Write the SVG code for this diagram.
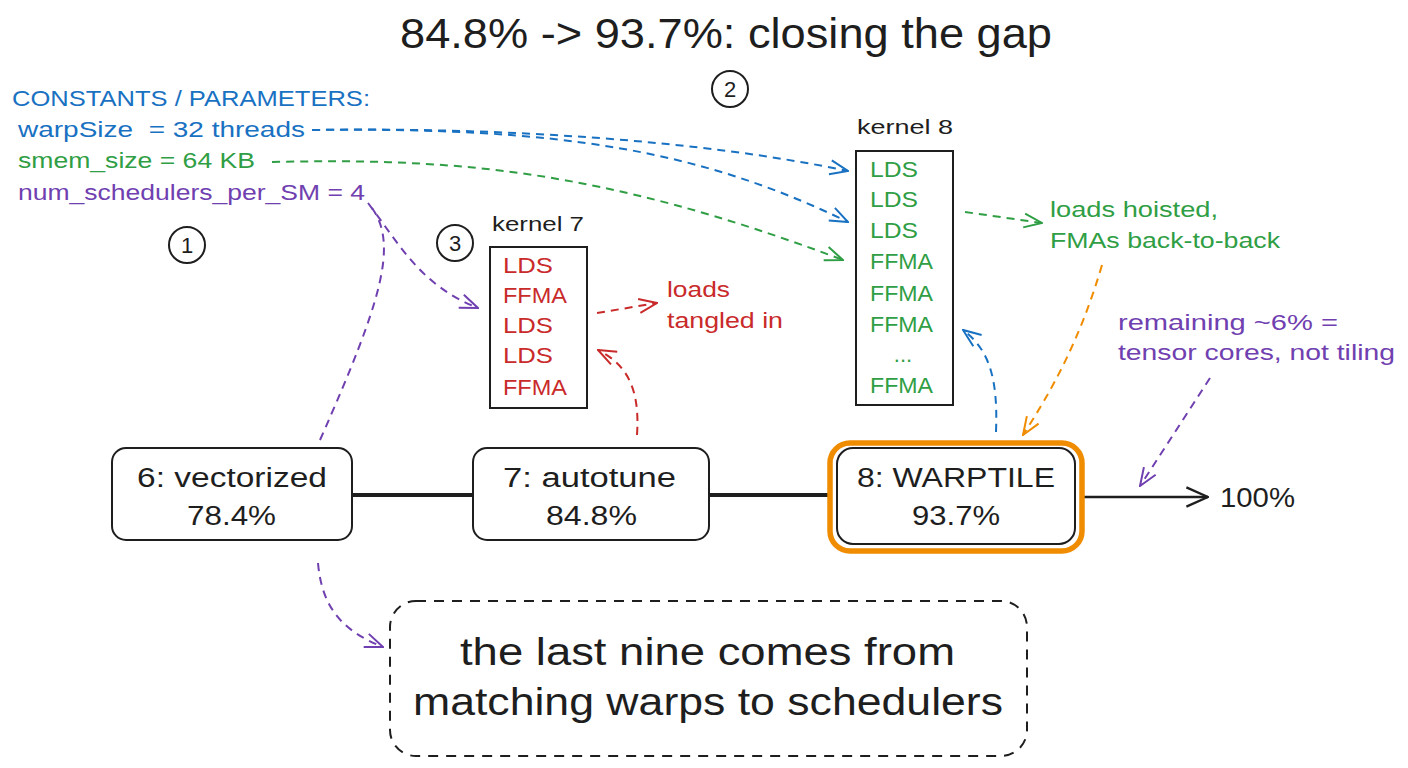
<svg xmlns="http://www.w3.org/2000/svg" width="1408" height="768" viewBox="0 0 1408 768">
<style>
text{font-family:"Liberation Sans",Arial,sans-serif;white-space:pre}
.t{fill:#1e1e1e}
.blue{fill:#1971c2}.green{fill:#2f9e44}.purple{fill:#7040b0}.red{fill:#c92a2a}
.node{fill:#fff;stroke:#1e1e1e;stroke-width:2}
.dash{fill:none;stroke-width:2;stroke-dasharray:8 6}
.sb{stroke:#1971c2}.sg{stroke:#2f9e44}.sp{stroke:#7040b0}.sr{stroke:#c92a2a}.so{stroke:#f08c00}
.circ{fill:none;stroke:#1e1e1e;stroke-width:2}
</style>
<defs>
<marker id="ab" viewBox="0 0 20 20" refX="19" refY="10" markerWidth="20" markerHeight="20" markerUnits="userSpaceOnUse" orient="auto"><path d="M1,3 L19,10 L1,17" fill="none" stroke="#1971c2" stroke-width="2"/></marker>
<marker id="ag" viewBox="0 0 20 20" refX="19" refY="10" markerWidth="20" markerHeight="20" markerUnits="userSpaceOnUse" orient="auto"><path d="M1,3 L19,10 L1,17" fill="none" stroke="#2f9e44" stroke-width="2"/></marker>
<marker id="ap" viewBox="0 0 20 20" refX="19" refY="10" markerWidth="20" markerHeight="20" markerUnits="userSpaceOnUse" orient="auto"><path d="M1,3 L19,10 L1,17" fill="none" stroke="#7040b0" stroke-width="2"/></marker>
<marker id="ar" viewBox="0 0 20 20" refX="19" refY="10" markerWidth="20" markerHeight="20" markerUnits="userSpaceOnUse" orient="auto"><path d="M1,3 L19,10 L1,17" fill="none" stroke="#c92a2a" stroke-width="2"/></marker>
<marker id="ao" viewBox="0 0 20 20" refX="19" refY="10" markerWidth="20" markerHeight="20" markerUnits="userSpaceOnUse" orient="auto"><path d="M1,3 L19,10 L1,17" fill="none" stroke="#f08c00" stroke-width="2"/></marker>
<marker id="ak" viewBox="0 0 20 20" refX="19" refY="10" markerWidth="24" markerHeight="24" markerUnits="userSpaceOnUse" orient="auto"><path d="M1,2 L19,10 L1,18" fill="none" stroke="#1e1e1e" stroke-width="2"/></marker>
</defs>

<rect width="1408" height="768" fill="#ffffff"/>

<g id="title">
<text class="t" x="400" y="48" font-size="42" textLength="652" lengthAdjust="spacingAndGlyphs">84.8% -&gt; 93.7%: closing the gap</text>
</g>

<g id="constants">
<text class="blue" x="12" y="106" font-size="22" textLength="358" lengthAdjust="spacingAndGlyphs">CONSTANTS / PARAMETERS:</text>
<text class="blue" x="18" y="137" font-size="22" textLength="287" lengthAdjust="spacingAndGlyphs">warpSize  = 32 threads</text>
<text class="green" x="18" y="168" font-size="22" textLength="237" lengthAdjust="spacingAndGlyphs">smem_size = 64 KB</text>
<text class="purple" x="18" y="200" font-size="22" textLength="347" lengthAdjust="spacingAndGlyphs">num_schedulers_per_SM = 4</text>
</g>

<g id="marker1"><circle class="circ" cx="187" cy="245" r="18"/><text class="t" x="187" y="253" font-size="22" text-anchor="middle">1</text></g>
<g id="marker2"><circle class="circ" cx="730" cy="89" r="18"/><text class="t" x="730" y="97" font-size="22" text-anchor="middle">2</text></g>
<g id="marker3"><circle class="circ" cx="455" cy="243" r="18"/><text class="t" x="455" y="251" font-size="22" text-anchor="middle">3</text></g>

<g id="connectors">
<path class="dash sb" d="M312,130 C500,127 700,140 848,171" marker-end="url(#ab)"/>
<path class="dash sb" d="M312,130 C560,127 700,150 848,222" marker-end="url(#ab)"/>
<path class="dash sg" d="M272,162 C450,158 600,168 843,260" marker-end="url(#ag)"/>
<path class="dash sp" d="M368,203 C400,245 420,285 478,308" marker-end="url(#ap)"/>
<path class="dash sp" d="M372,208 C398,245 382,300 320,440"/>
<path class="dash sp" d="M318,563 C322,610 345,632 383,647" marker-end="url(#ap)"/>
<path class="dash sr" d="M597,313 L657,303" marker-end="url(#ar)"/>
<path class="dash sr" d="M637,435 C640,390 628,365 598,350" marker-end="url(#ar)"/>
<path class="dash sg" d="M965,212 L1042,223" marker-end="url(#ag)"/>
<path class="dash so" d="M1102,265 C1080,340 1052,390 1023,435" marker-end="url(#ao)"/>
<path class="dash sb" d="M996,432 C998,380 990,350 963,330" marker-end="url(#ab)"/>
<path class="dash sp" d="M1210,378 L1140,486" marker-end="url(#ap)"/>
<path d="M352,495 L473,495" stroke="#1e1e1e" stroke-width="4" fill="none"/>
<path d="M709,495 L830,495" stroke="#1e1e1e" stroke-width="4" fill="none"/>
<path d="M1083,497 L1208,497" stroke="#1e1e1e" stroke-width="2.5" fill="none" marker-end="url(#ak)"/>
</g>

<g id="kernel7">
<text class="t" x="492" y="231" font-size="21" textLength="92" lengthAdjust="spacingAndGlyphs">kernel 7</text>
<rect x="490" y="247" width="97" height="161" fill="none" stroke="#1e1e1e" stroke-width="2"/>
<text class="red" x="503" y="273" font-size="22" textLength="50" lengthAdjust="spacingAndGlyphs">LDS</text>
<text class="red" x="503" y="303" font-size="22" textLength="64" lengthAdjust="spacingAndGlyphs">FFMA</text>
<text class="red" x="503" y="333" font-size="22" textLength="50" lengthAdjust="spacingAndGlyphs">LDS</text>
<text class="red" x="503" y="363" font-size="22" textLength="50" lengthAdjust="spacingAndGlyphs">LDS</text>
<text class="red" x="503" y="395" font-size="22" textLength="64" lengthAdjust="spacingAndGlyphs">FFMA</text>
</g>

<g id="note7">
<text class="red" x="667" y="297" font-size="22" textLength="63" lengthAdjust="spacingAndGlyphs">loads</text>
<text class="red" x="667" y="328" font-size="22" textLength="116" lengthAdjust="spacingAndGlyphs">tangled in</text>
</g>

<g id="kernel8">
<text class="t" x="857" y="134" font-size="21" textLength="96" lengthAdjust="spacingAndGlyphs">kernel 8</text>
<rect x="856" y="151" width="97" height="254" fill="none" stroke="#1e1e1e" stroke-width="2"/>
<text class="green" x="870" y="177" font-size="22" textLength="48" lengthAdjust="spacingAndGlyphs">LDS</text>
<text class="green" x="870" y="207" font-size="22" textLength="48" lengthAdjust="spacingAndGlyphs">LDS</text>
<text class="green" x="870" y="238" font-size="22" textLength="48" lengthAdjust="spacingAndGlyphs">LDS</text>
<text class="green" x="870" y="269" font-size="22" textLength="63" lengthAdjust="spacingAndGlyphs">FFMA</text>
<text class="green" x="870" y="301" font-size="22" textLength="63" lengthAdjust="spacingAndGlyphs">FFMA</text>
<text class="green" x="870" y="332" font-size="22" textLength="63" lengthAdjust="spacingAndGlyphs">FFMA</text>
<text class="green" x="903" y="362" font-size="22" text-anchor="middle">...</text>
<text class="green" x="870" y="393" font-size="22" textLength="63" lengthAdjust="spacingAndGlyphs">FFMA</text>
</g>

<g id="note8">
<text class="green" x="1050" y="217" font-size="22" textLength="168" lengthAdjust="spacingAndGlyphs">loads hoisted,</text>
<text class="green" x="1050" y="248" font-size="22" textLength="230" lengthAdjust="spacingAndGlyphs">FMAs back-to-back</text>
</g>

<g id="noteRemaining">
<text class="purple" x="1118" y="330" font-size="22" textLength="220" lengthAdjust="spacingAndGlyphs">remaining ~6% =</text>
<text class="purple" x="1118" y="360" font-size="22" textLength="277" lengthAdjust="spacingAndGlyphs">tensor cores, not tiling</text>
</g>

<g id="node6">
<rect class="node" x="112" y="448" width="240" height="92" rx="14"/>
<text class="t" x="137" y="487" font-size="27" textLength="190" lengthAdjust="spacingAndGlyphs">6: vectorized</text>
<text class="t" x="187" y="525" font-size="27" textLength="89" lengthAdjust="spacingAndGlyphs">78.4%</text>
</g>

<g id="node7">
<rect class="node" x="473" y="448" width="236" height="92" rx="14"/>
<text class="t" x="503" y="487" font-size="27" textLength="173" lengthAdjust="spacingAndGlyphs">7: autotune</text>
<text class="t" x="546" y="525" font-size="27" textLength="91" lengthAdjust="spacingAndGlyphs">84.8%</text>
</g>

<g id="node8">
<rect x="830" y="443" width="252" height="108" rx="20" fill="none" stroke="#f08c00" stroke-width="5.5"/>
<rect class="node" x="837" y="448" width="238" height="96" rx="16"/>
<text class="t" x="857" y="487" font-size="27" textLength="198" lengthAdjust="spacingAndGlyphs">8: WARPTILE</text>
<text class="t" x="912" y="525" font-size="27" textLength="88" lengthAdjust="spacingAndGlyphs">93.7%</text>
</g>

<g id="target">
<text class="t" x="1220" y="507" font-size="28" textLength="75" lengthAdjust="spacingAndGlyphs">100%</text>
</g>

<g id="conclusion">
<rect x="390" y="601" width="637" height="155" rx="26" fill="none" stroke="#1e1e1e" stroke-width="2" stroke-dasharray="10 8"/>
<text class="t" x="460" y="665" font-size="38" textLength="495" lengthAdjust="spacingAndGlyphs">the last nine comes from</text>
<text class="t" x="413" y="715" font-size="38" textLength="590" lengthAdjust="spacingAndGlyphs">matching warps to schedulers</text>
</g>
</svg>
